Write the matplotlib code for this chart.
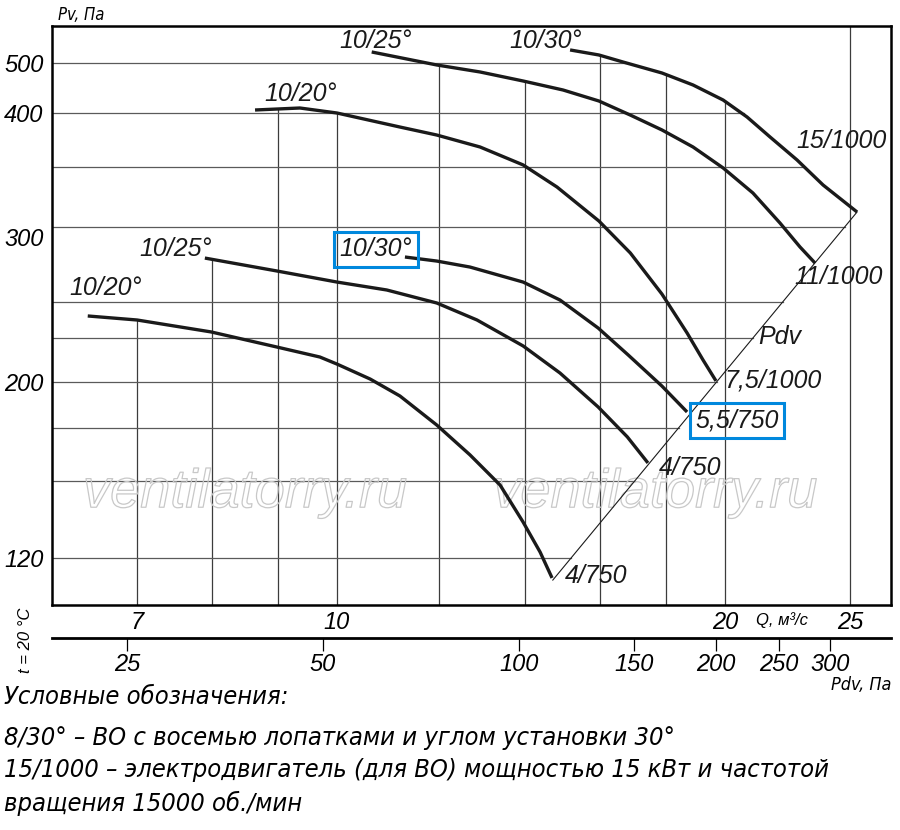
import numpy as np
import matplotlib
matplotlib.use('Agg')
import matplotlib.pyplot as plt
import matplotlib.patheffects as pe
from matplotlib import transforms
from matplotlib import font_manager as fm
from matplotlib.ticker import NullLocator

plt.rcParams['font.family'] = ['Liberation Sans', 'DejaVu Sans']
plt.rcParams['font.style'] = 'italic'

#######
# Data: Q in m3/s, Pv in Pa
# lower 10/20 deg, motor 4/750
q_a = [6.41, 7.00, 7.99, 8.98, 9.70, 10.0, 10.61, 11.19, 11.95, 12.68, 13.38, 13.94, 14.37, 14.68]
pv_a = [240.3, 237.5, 229.2, 219.9, 214.2, 210.2, 201.7, 192.4, 176.6, 162.3, 148.4, 134.0, 122.3, 111.5]
# lower 10/25 deg, motor 4/750
q_b = [7.90, 8.98, 10.0, 10.93, 11.95, 12.84, 13.94, 14.89, 15.94, 16.79, 17.42]
pv_b = [279.3, 270.7, 263.3, 258.0, 249.3, 237.5, 220.5, 205.1, 186.4, 170.8, 158.5]
# middle 10/30 deg, motor 5,5/750
q_f = [11.29, 11.95, 12.68, 13.94, 14.89, 15.94, 16.82, 17.86, 18.68]
pv_f = [280.0, 277.3, 273.3, 263.3, 251.3, 231.9, 215.3, 197.8, 183.7]
# upper 10/20 deg, motor 7,5/1000
q_c = [8.64, 9.36, 10.0, 11.19, 11.95, 12.91, 13.94, 14.81, 15.96, 16.88, 17.86, 18.68, 19.22, 19.67]
pv_c = [406.0, 410.0, 400.0, 387.0, 379.6, 368.5, 351.9, 333.3, 305.0, 282.7, 255.3, 228.5, 212.5, 200.6]
# upper 10/25 deg, motor 11/1000
q_d = [10.64, 11.95, 12.91, 13.94, 14.97, 15.96, 16.88, 17.86, 18.88, 19.92, 21.01, 22.05, 22.85, 23.47]
pv_d = [522.3, 496.0, 482.0, 464.0, 446.0, 424.0, 398.1, 384.3, 368.5, 349.2, 328.3, 303.3, 286.7, 276.0]
# upper 10/30 deg, motor 15/1000
q_e = [15.16, 15.96, 16.66, 17.86, 18.88, 19.92, 20.79, 21.66, 22.73, 23.81, 25.30]
pv_e = [526.4, 516.2, 502.0, 480.0, 456.0, 426.0, 396.3, 377.8, 356.5, 335.0, 312.5]

# dynamic pressure line Pdv through the curve ends
q_pdv = [14.70, 25.30]
pv_pdv = [110.6, 312.5]

# curve labels
lbl_text = ['10/25°', '10/30°', '10/20°', '10/25°', '10/30°', '10/20°',
            '15/1000', '11/1000', 'Pdv', '7,5/1000', '5,5/750', '4/750', '4/750']
lbl_q = [10.72, 14.52, 9.38, 7.50, 10.72, 6.62, 24.59, 24.46, 22.05, 21.78, 20.43, 18.77, 15.88]
lbl_pv = [544.6, 544.6, 438.0, 285.3, 285.3, 259.3, 374.1, 266.7, 225.7, 201.1, 179.3, 156.1, 112.3]
lbl_boxed = [4, 10]

# axes ticks and grid
q_ticks = [7, 10, 20, 25]
pv_ticks = [120, 200, 300, 400, 500]
q_grid = [7, 8, 9, 10, 12, 14, 16, 18, 20, 25]
q_grid_full = [25]
pv_grid = [120, 150, 175, 200, 225, 250, 300, 350, 400, 500]
pdv_ticks = [25, 50, 100, 150, 200, 250, 300]

legend_lines = ['Условные обозначения:',
                '8/30° – ВО с восемью лопатками и углом установки 30°',
                '15/1000 – электродвигатель (для ВО) мощностью 15 кВт и частотой',
                'вращения 15000 об./мин']

# Pv axis of the chart is not uniform: value -> fraction of axis height
PV_SCALE_VAL = np.array([100, 120, 150, 175, 200, 225, 250, 300, 350, 400, 500, 575], float)
PV_SCALE_POS = np.array([0, 0.0812, 0.2142, 0.3057, 0.3851, 0.4611, 0.5233,
                         0.6528, 0.7565, 0.8497, 0.9361, 1.0])

def pv_fwd(v):
    return np.interp(v, PV_SCALE_VAL, PV_SCALE_POS)

def pv_inv(p):
    return np.interp(p, PV_SCALE_POS, PV_SCALE_VAL)

def narrow_font():
    # a condensed face for the notes, if one is installed
    for fam, stretch in [('Liberation Sans Narrow', 'normal'), ('Noto Sans', 'condensed'),
                         ('DejaVu Sans', 'condensed'), ('Roboto Condensed', 'normal'),
                         ('Open Sans', 'condensed')]:
        fp = fm.FontProperties(family=fam, stretch=stretch, style='italic')
        try:
            path = fm.findfont(fp, fallback_to_default=False)
        except ValueError:
            continue
        name = path.lower()
        if 'narrow' in name or 'condensed' in name:
            return dict(family=[fam, 'DejaVu Sans'], stretch=stretch)
    return dict(family=['Liberation Sans', 'DejaVu Sans'])

NARROW = narrow_font()

curves = [(q_a, pv_a), (q_b, pv_b), (q_f, pv_f), (q_c, pv_c), (q_d, pv_d), (q_e, pv_e)]
QMIN, QMAX = 6.014, 26.88
PVMIN, PVMAX = 100, 575

fig = plt.figure(figsize=(9, 8.3), dpi=100)
ax = fig.add_axes([0.0578, 0.2711, 0.9322, 0.6976])
ax.set_xscale('log')
ax.set_yscale('function', functions=(pv_fwd, pv_inv))
ax.set_xlim(QMIN, QMAX)
ax.set_ylim(PVMIN, PVMAX)

#######
# Grid: vertical lines stop at the highest curve, horizontal ones at the Pdv line
for q in q_grid:
    if q in q_grid_full:
        top = PVMAX
    else:
        vals = [np.interp(np.log10(q), np.log10(qc), pc) for qc, pc in curves
                if qc[0] <= q <= qc[-1]]
        top = max(vals)
    ax.plot([q, q], [PVMIN, top], color='#3c3c3c', lw=0.9, zorder=1)

y1, y2 = pv_fwd(pv_pdv[0]), pv_fwd(pv_pdv[1])
for v in pv_grid:
    ends = []
    for qc, pc in curves:
        qq = np.geomspace(qc[0], qc[-1], 600)
        pp = np.interp(np.log10(qq), np.log10(qc), pc)
        if (pp >= v).any():
            ends.append(qq[pp >= v][-1])
    env_end = max(ends) if ends else QMAX
    t = (pv_fwd(v) - y1) / (y2 - y1)
    pdv_end = 10**(np.log10(q_pdv[0]) + t*(np.log10(q_pdv[1]) - np.log10(q_pdv[0])))
    ax.plot([QMIN, min(env_end, pdv_end)], [v, v], color='#5a5a5a', lw=0.9, zorder=1)

#######
# Curves and Pdv line
for qc, pc in curves:
    ax.plot(qc, pc, color='#1a1a1a', lw=2.4, zorder=3, solid_capstyle='butt',
            solid_joinstyle='round')
ax.plot(q_pdv, pv_pdv, color='#1a1a1a', lw=0.8, zorder=3)

for i, s in enumerate(lbl_text):
    kw = {}
    if i in lbl_boxed:
        kw['bbox'] = dict(boxstyle='square,pad=0.22', fc='none', ec='#0088dd', lw=2.2)
    ax.text(lbl_q[i], lbl_pv[i], s, ha='center', va='center', fontsize=18,
            color='#1a1a1a', zorder=5, **kw)

# watermark
for xw in [0.230, 0.719]:
    ax.text(xw, 0.193, 'ventilatorry.ru', transform=ax.transAxes, ha='center',
            va='center', fontsize=39, color=(1, 1, 1, 0), zorder=2,
            path_effects=[pe.Stroke(linewidth=0.9, foreground='#c8c8c8')])

#######
# Axes styling
for sp in ax.spines.values():
    sp.set_linewidth(1.8)
ax.set_xticks(q_ticks, labels=[str(v) for v in q_ticks])
ax.set_yticks(pv_ticks, labels=[str(v) for v in pv_ticks])
ax.xaxis.set_minor_locator(NullLocator())
ax.yaxis.set_minor_locator(NullLocator())
ax.tick_params(axis='both', length=0, labelsize=17)
ax.tick_params(axis='x', pad=4)
ax.tick_params(axis='y', pad=6)
for tk in ax.yaxis.get_major_ticks():
    if tk.get_loc() == 300:
        tk.label1.set_transform(tk.label1.get_transform() +
                                transforms.ScaledTranslation(0, -0.10, fig.dpi_scale_trans))

fig.text(0.064, 0.982, 'Pv, Па', fontsize=12, ha='left', va='center', **NARROW)
fig.text(0.869, 0.2530, 'Q, м³/с', fontsize=12, ha='center', va='center')

#######
# Second axis: dynamic pressure Pdv
ax2 = fig.add_axes([0.0578, 0.2313, 0.9322, 0.001])
ax2.set_xscale('log')
ax2.set_xlim(19.2, 371.5)
ax2.set_ylim(0, 1)
ax2.yaxis.set_visible(False)
for name in ['left', 'right', 'top']:
    ax2.spines[name].set_visible(False)
ax2.spines['bottom'].set_linewidth(2.0)
ax2.set_xticks(pdv_ticks, labels=[str(v) for v in pdv_ticks])
ax2.xaxis.set_minor_locator(NullLocator())
ax2.tick_params(axis='x', direction='out', length=9, width=0.9, labelsize=17, pad=2)
ax2.patch.set_visible(False)

fig.text(0.99, 0.175, 'Pdv, Па', fontsize=13, ha='right', va='center', **NARROW)
fig.text(0.028, 0.228, 't = 20 °C', fontsize=12, rotation=90, ha='center', va='center')

# notes below the chart, sized so the longest line spans ~823 px as in the source
notes = []
for line, yy in zip(legend_lines, [697, 738, 770, 803]):
    notes.append(fig.text(0.004, 1 - yy/830, line, fontsize=20, ha='left', va='center', **NARROW))
fig.canvas.draw()
w = notes[2].get_window_extent().width
k = min(1.1, 823.0 / w)
for tx in notes:
    tx.set_fontsize(20 * k)

fig.savefig('out.png', dpi=100)
